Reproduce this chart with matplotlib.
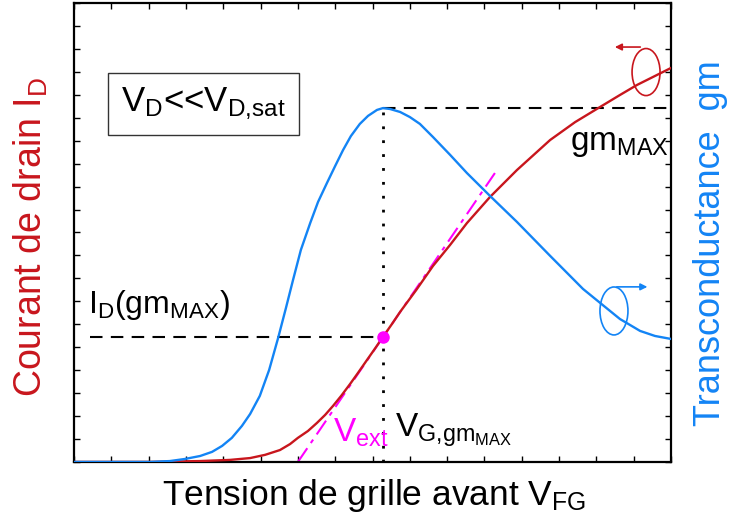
import matplotlib
matplotlib.use('Agg')
from matplotlib import pyplot as plt
from matplotlib.patches import Ellipse

plt.rcParams['font.family'] = ['Liberation Sans', 'DejaVu Sans']
plt.rcParams['mathtext.fontset'] = 'custom'
plt.rcParams['mathtext.rm'] = 'Liberation Sans'
plt.rcParams['mathtext.it'] = 'Liberation Sans'
plt.rcParams['mathtext.bf'] = 'Liberation Sans'

# Transconductance gm (arbitrary units)
vg_gm = [0, 2.04, 2.57, 2.97, 3.38, 3.70, 3.97, 4.23, 4.50, 4.72, 4.98, 5.23,
         5.47, 5.68, 5.87, 6.08, 6.33, 6.54, 6.78, 7.00, 7.21, 7.42, 7.66,
         7.88, 8.12, 8.28, 8.47, 8.74, 9.00, 9.27, 9.62, 10.08, 10.53, 11.15,
         11.87, 12.76, 13.64, 14.10, 14.63, 15.17, 15.57, 16.0]
gm = [0, 0, 0.04, 0.13, 0.26, 0.44, 0.70, 1.05, 1.57, 2.09, 2.88, 4.01,
      5.40, 6.71, 7.93, 9.24, 10.41, 11.33, 12.16, 12.90, 13.59, 14.20, 14.73,
      15.08, 15.34, 15.42, 15.38, 15.25, 15.03, 14.73, 14.16, 13.38, 12.59,
      11.59, 10.46, 8.98, 7.54, 6.93, 6.23, 5.71, 5.49, 5.36]

# Drain current ID (arbitrary units)
vg_id = [0, 2.04, 3.38, 4.18, 4.72, 5.12, 5.52, 5.79, 6.00, 6.27, 6.51, 6.73,
         6.94, 7.16, 7.40, 7.61, 7.85, 8.07, 8.28, 8.52, 8.74, 9.17, 9.62,
         10.08, 10.53, 11.15, 11.87, 12.76, 13.43, 14.10, 14.63, 15.09, 15.57,
         16.0]
id_ = [0, 0, 0.04, 0.09, 0.17, 0.31, 0.52, 0.78, 1.05, 1.35, 1.70, 2.05,
       2.44, 2.88, 3.40, 3.88, 4.44, 4.95, 5.45, 6.01, 6.54, 7.49, 8.54,
       9.46, 10.41, 11.55, 12.72, 14.03, 14.81, 15.47, 15.99, 16.43, 16.82,
       17.17]

# Tangent at gm max (extrapolation line)
vg_tan = [6.0, 11.28]
id_tan = [0, 12.59]

vg_max, gm_max, id_at_max = 8.28, 15.42, 5.45

red = '#C8161D'
blue = '#1384F5'
mag = '#FF00FF'

fig = plt.figure(figsize=(7.31, 5.31), dpi=100)
ax = fig.add_axes([0.1012, 0.130, 0.8168, 0.8644])

ax.plot(vg_id, id_, color=red, lw=1.7, zorder=3, solid_joinstyle='round')
ax.plot(vg_gm, gm, color=blue, lw=1.7, zorder=3, solid_joinstyle='round')
ax.plot(vg_tan, id_tan, color=mag, lw=1.5, dashes=(8, 3, 2, 3), zorder=2)
ax.plot([vg_max], [id_at_max], 'o', color=mag, ms=8, zorder=4)

ax.plot([0.43, vg_max], [id_at_max, id_at_max], color='black', lw=1.5, dashes=(6, 4))
ax.plot([vg_max, 16], [gm_max, gm_max], color='black', lw=1.5, dashes=(6, 4))
ax.plot([vg_max, vg_max], [0, gm_max], color='black', lw=2, dashes=(1, 4))

# loop markers pointing to the axes
ax.add_patch(Ellipse((15.33, 16.99), 0.75, 2.05, fill=False, ec=red, lw=1.2))
ax.annotate('', xy=(14.42, 18.08), xytext=(15.25, 18.08),
            arrowprops=dict(arrowstyle='-|>', color=red, lw=1.2, mutation_scale=10))
ax.add_patch(Ellipse((14.47, 6.58), 0.75, 2.09, fill=False, ec=blue, lw=1.2))
ax.annotate('', xy=(15.44, 7.63), xytext=(14.47, 7.63),
            arrowprops=dict(arrowstyle='-|>', color=blue, lw=1.2, mutation_scale=10))

ax.text(3.46, 15.6, r'$\mathregular{V_D}$<<$\mathregular{V_{D{,}sat}}$', fontsize=25,
        ha='center', va='center',
        bbox=dict(boxstyle='square,pad=0.38', fc='white', ec='#333333', lw=1))
ax.text(13.3, 13.6, r'$\mathregular{gm_{MAX}}$', fontsize=24, va='baseline')
ax.text(0.375, 6.49, r'$\mathregular{I_D(gm_{MAX})}$', fontsize=23, va='baseline')
ax.text(6.94, 0.87, r'$\mathregular{V_{ext}}$', fontsize=24, color=mag, va='baseline')
ax.text(8.6, 1.09, r'$\mathregular{V_{G{,}gm_{MAX}}}$', fontsize=24, va='baseline')

ax.set_xlim(0, 16)
ax.set_ylim(0, 20)
ax.set_xticks(range(0, 17))
ax.set_yticks(range(0, 21))
ax.tick_params(direction='in', length=4, width=1, top=True, right=True,
               labelbottom=False, labelleft=False)
for s in ax.spines.values():
    s.set_linewidth(1.6)

ax.text(-0.072, 0.49, r'Courant de drain $\mathregular{I_D}$', color=red, fontsize=27,
        rotation=90, ha='center', va='center', transform=ax.transAxes)
ax.text(1.066, 0.477, 'Transconductance  gm', color=blue, fontsize=26,
        rotation=90, ha='center', va='center', transform=ax.transAxes)
ax.text(0.502, -0.094, r'Tension de grille avant $\mathregular{V_{FG}}$', fontsize=25.5,
        ha='center', va='baseline', transform=ax.transAxes)

fig.savefig('out.png', dpi=100)
